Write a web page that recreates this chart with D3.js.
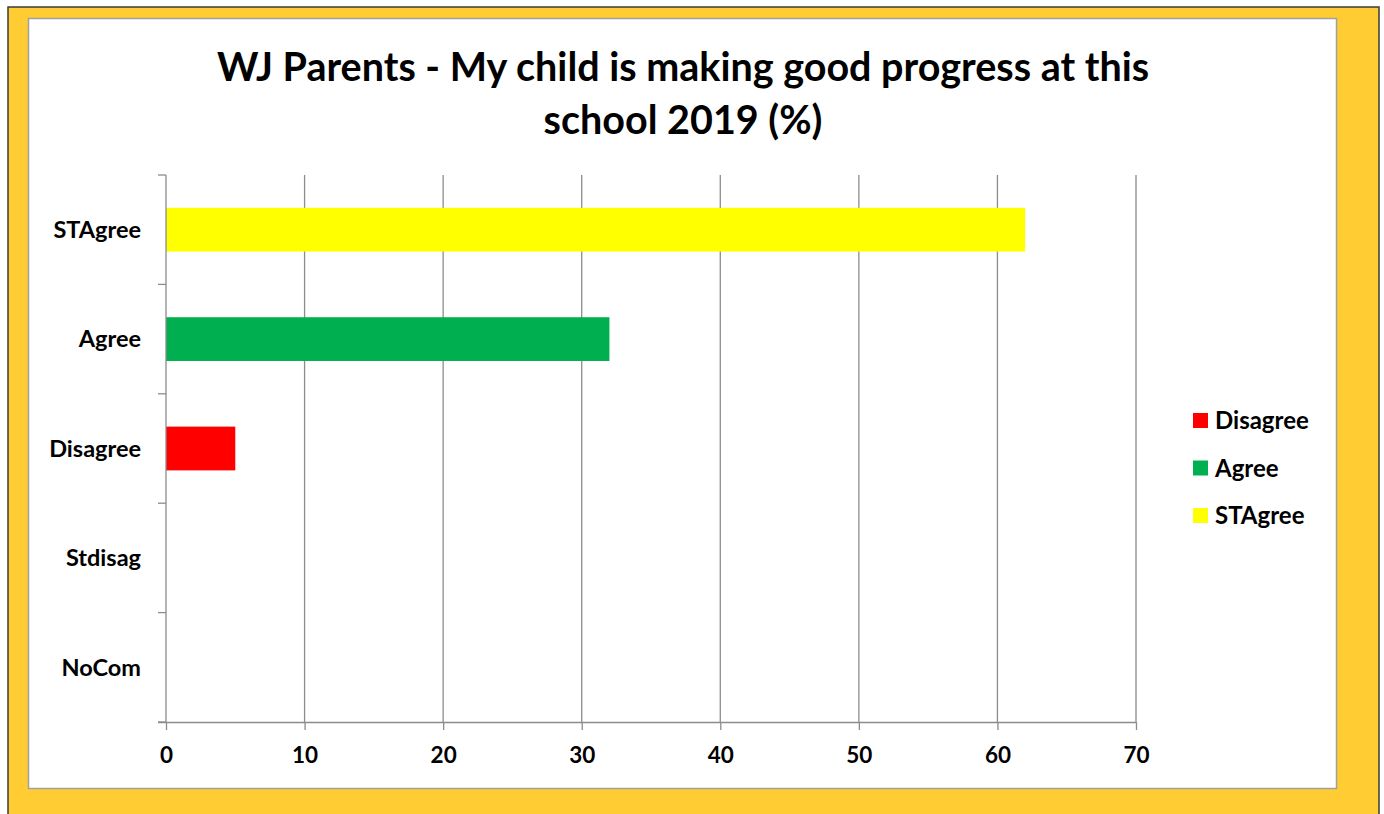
<!DOCTYPE html>
<html>
<head>
<meta charset="utf-8">
<script src="https://cdn.jsdelivr.net/npm/d3@7"></script>
<style>
  body { margin: 0; background: #fff; }
  svg text { font-family: Lato, "Open Sans", sans-serif; font-weight: bold; fill: #000; }
</style>
</head>
<body>
<svg id="chart" width="1384" height="814"></svg>
<script>
// Chart data
let categories = ["STAgree", "Agree", "Disagree", "Stdisag", "NoCom"]
let values = [62, 32, 5, 0, 0]
let barColors = ["#ffff00", "#00b050", "#ff0000", "#7030a0", "#0070c0"]
let legendItems = ["Disagree", "Agree", "STAgree"]
let legendColors = ["#ff0000", "#00b050", "#ffff00"]
let xTicks = [0, 10, 20, 30, 40, 50, 60, 70]
let titleLines = ["WJ Parents - My child is making good progress at this", "school 2019 (%)"]

let svg = d3.select("#chart")

// Frame: yellow border with white panel
svg.append("rect").attr("x", 8).attr("y", 7).attr("width", 1371).attr("height", 820)
    .attr("fill", "#ffcc33").attr("stroke", "#3a3a3a").attr("stroke-width", 1.5)
svg.append("rect").attr("x", 28.5).attr("y", 18.5).attr("width", 1308).attr("height", 770)
    .attr("fill", "#fff").attr("stroke", "#a0a0a0").attr("stroke-width", 1.5)

// Title
svg.selectAll("text.title")
    .data(titleLines)
    .enter()
    .append("text")
    .attr("class", "title")
    .attr("x", 683)
    .attr("y", (d, i) => 81 + i * 53)
    .attr("text-anchor", "middle")
    .style("font-size", "39.5px")
    .text(d => d)

// Scales
let plotL = 166, plotR = 1136, plotT = 175, plotB = 722
let xScale = d3.scaleLinear().domain([0, 70]).range([plotL, plotR])
let yScale = d3.scaleBand().domain(categories).range([plotT, plotB])
    .paddingInner(0.6).paddingOuter(0.3)

// Gridlines
svg.append("g")
    .selectAll("line")
    .data(xTicks.slice(1))
    .enter()
    .append("line")
    .attr("x1", d => xScale(d)).attr("x2", d => xScale(d))
    .attr("y1", plotT).attr("y2", plotB)
    .attr("stroke", "#8c8c8c").attr("stroke-width", 1.3)

// Bars
svg.append("g")
    .selectAll("rect")
    .data(categories)
    .enter()
    .append("rect")
    .attr("x", xScale(0))
    .attr("y", d => yScale(d))
    .attr("width", (d, i) => xScale(values[i]) - xScale(0))
    .attr("height", yScale.bandwidth())
    .attr("fill", (d, i) => barColors[i])

// Axes
let xAxis = d3.axisBottom(xScale).tickValues(xTicks).tickSize(8).tickPadding(17)
let gx = svg.append("g").attr("transform", `translate(0,${plotB})`).call(xAxis)
gx.select(".domain").attr("stroke", "#8c8c8c").attr("stroke-width", 1.3)
    .attr("d", `M${plotL - 8},0.5H${plotR}`)
gx.selectAll(".tick line").attr("stroke", "#8c8c8c").attr("stroke-width", 1.3)
gx.selectAll(".tick text").style("font-size", "22.5px").style("font-family", "Lato, sans-serif")

// Y axis line and boundary ticks
let step = (plotB - plotT) / categories.length
svg.append("line").attr("x1", plotL).attr("x2", plotL).attr("y1", plotT).attr("y2", plotB)
    .attr("stroke", "#8c8c8c").attr("stroke-width", 1.3)
svg.append("g")
    .selectAll("line")
    .data(d3.range(categories.length + 1))
    .enter()
    .append("line")
    .attr("x1", plotL - 8).attr("x2", plotL)
    .attr("y1", d => plotT + d * step).attr("y2", d => plotT + d * step)
    .attr("stroke", "#8c8c8c").attr("stroke-width", 1.3)
svg.append("g")
    .selectAll("text")
    .data(categories)
    .enter()
    .append("text")
    .attr("x", 141)
    .attr("y", d => yScale(d) + yScale.bandwidth() / 2)
    .attr("dy", "0.35em")
    .attr("text-anchor", "end")
    .style("font-size", "23.5px")
    .text(d => d)

// Legend
let legend = svg.append("g").selectAll("g")
    .data(legendItems)
    .enter()
    .append("g")
    .attr("transform", (d, i) => `translate(1193,${413 + i * 47.5})`)
legend.append("rect").attr("width", 15).attr("height", 15)
    .attr("fill", (d, i) => legendColors[i])
legend.append("text").attr("x", 22).attr("y", 7.5).attr("dy", "0.36em")
    .style("font-size", "24px")
    .text(d => d)
</script>
</body>
</html>
